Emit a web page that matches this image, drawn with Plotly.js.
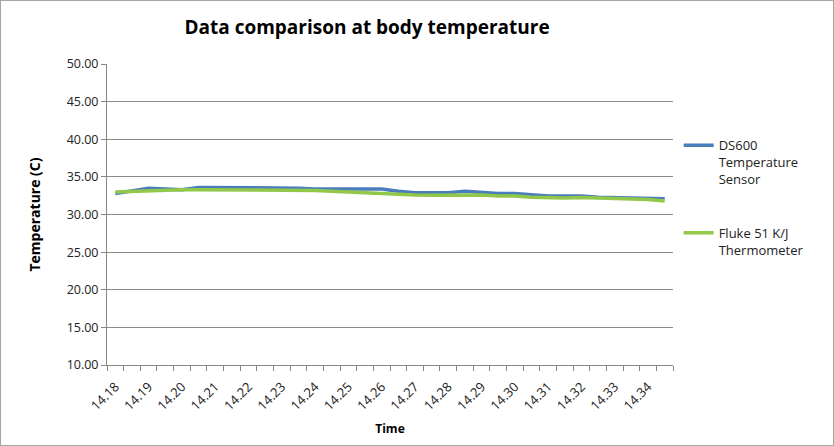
<!DOCTYPE html>
<html>
<head>
<meta charset="utf-8">
<script src="https://cdn.plot.ly/plotly-3.0.1.min.js"></script>
<style>
html,body{margin:0;padding:0;background:#fff;}
#frame{width:834px;height:446px;box-sizing:border-box;border:1px solid #a6a6a6;overflow:hidden;}
#chart{width:832px;height:444px;}
</style>
</head>
<body>
<div id="frame"><div id="chart"></div></div>
<script>
// Time labels (shown on every second reading)
const timeLabels = ["14.18","14.19","14.20","14.21","14.22","14.23","14.24","14.25","14.26",
                    "14.27","14.28","14.29","14.30","14.31","14.32","14.33","14.34"];
// Readings (two per minute)
const ds600 = [32.8,33.2,33.5,33.4,33.3,33.6,33.6,33.6,33.6,33.6,33.6,33.5,33.4,33.4,33.4,33.4,33.4,
               33.1,32.9,32.9,32.9,33.1,32.9,32.8,32.8,32.6,32.45,32.45,32.45,32.3,32.25,32.2,32.1,32.1];
const fluke = [33.0,33.1,33.1,33.3,33.3,33.3,33.3,33.3,33.3,33.3,33.3,33.3,33.2,33.1,33.0,32.9,32.8,
               32.6,32.6,32.55,32.55,32.65,32.6,32.45,32.45,32.3,32.2,32.2,32.25,32.2,32.1,32.0,32.0,31.8];
const seriesNames = ["DS600<br>Temperature<br>Sensor", "Fluke 51 K/J<br>Thermometer"];

const idx = ds600.map((_, i) => i);
const labelPos = timeLabels.map((_, i) => i * 2);

const font = "Open Sans, Noto Sans, sans-serif";
const traces = [
  {x: idx, y: ds600, name: seriesNames[0], legendgroup: "a", type: "scatter", mode: "lines",
   line: {color: "#4a7ebb", width: 3.5}},
  {x: idx, y: fluke, name: seriesNames[1], legendgroup: "b", type: "scatter", mode: "lines",
   line: {color: "#92c84a", width: 3.5}}
];

const layout = {
  width: 832, height: 444,
  margin: {l: 106, r: 160, t: 63, b: 80},
  paper_bgcolor: "#fff", plot_bgcolor: "#fff",
  font: {family: font, size: 12, color: "#000"},
  title: {text: "<b>Data comparison at body temperature</b>", x: 0.44, xanchor: "center",
          y: 0.94, yanchor: "middle",
          font: {family: font, size: 19, color: "#000"}},
  xaxis: {
    range: [-0.5, 33.5], tickmode: "array", tickvals: labelPos, ticktext: timeLabels,
    tickangle: -45, ticks: "", showgrid: false, zeroline: false,
    showline: true, linecolor: "#868686", linewidth: 1,
    ticklabelstandoff: 8,
    tickfont: {family: font, size: 13, color: "#222"},
    minor: {tick0: 0.5, dtick: 1, ticks: "outside", ticklen: 5, tickcolor: "#868686", showgrid: false},
    title: {text: "<b>Time</b>", font: {family: font, size: 12, color: "#000"}, standoff: 11}
  },
  yaxis: {
    range: [10, 50], dtick: 5, tickformat: ".2f", ticks: "outside", ticklen: 5,
    tickcolor: "#868686", showgrid: true, gridcolor: "#8c8c8c", gridwidth: 1,
    showline: true, linecolor: "#868686", zeroline: false,
    tickfont: {family: font, size: 12.5, color: "#222"},
    title: {text: "<b>Temperature (C)</b>", font: {family: font, size: 14, color: "#000"}, standoff: 22}
  },
  legend: {x: 1.01, xanchor: "left", y: 0.78, yanchor: "top", bgcolor: "rgba(0,0,0,0)",
           valign: "top", traceorder: "grouped",
           font: {family: font, size: 13, color: "#222"}, tracegroupgap: 34, itemwidth: 30},
  showlegend: true
};

Plotly.newPlot("chart", traces, layout, {displayModeBar: false, staticPlot: true});
</script>
</body>
</html>
